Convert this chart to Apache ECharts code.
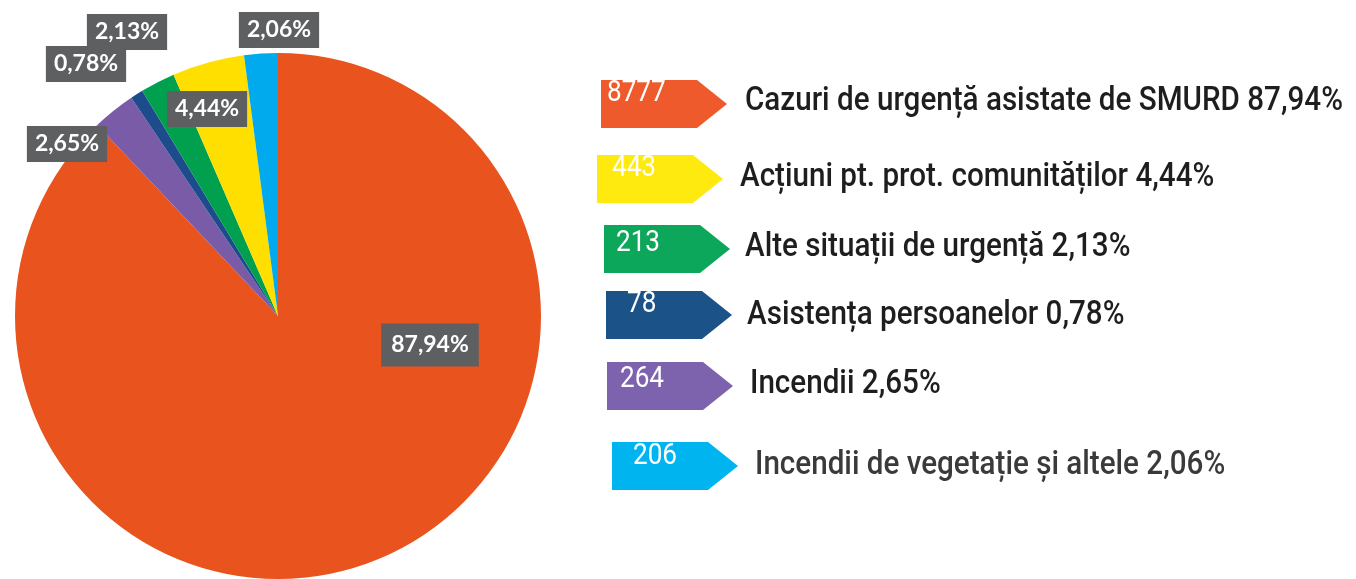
<!DOCTYPE html>
<html><head><meta charset="utf-8">
<script src="https://cdn.jsdelivr.net/npm/echarts@6/dist/echarts.min.js"></script>
<style>html,body{margin:0;padding:0;background:#fff}#c{width:1356px;height:579px}</style>
</head><body><div id="c"></div>
<script>
// ---- DATA (legend order) ----
const categories = [
  'Cazuri de urgență asistate de SMURD',
  'Acțiuni pt. prot. comunităților',
  'Alte situații de urgență',
  'Asistența persoanelor',
  'Incendii',
  'Incendii de vegetație și altele'
];
const counts = [8777, 443, 213, 78, 264, 206];
const percentLabels = ['87,94%', '4,44%', '2,13%', '0,78%', '2,65%', '2,06%'];
// slice order clockwise from 12 o'clock (indices into categories)
const pieOrder = [0, 4, 3, 2, 1, 5];

// ---- STYLE / LAYOUT ----
const sliceColors = ['#E8531E', '#FFDF00', '#00A04F', '#1D4C8C', '#7A5BA7', '#00AAEC'];
const arrowColors = ['#EE5A2B', '#FFEA10', '#0DA75B', '#1B5388', '#7D63AD', '#00B4F0'];
const labelPos = [[430, 345], [207, 109], [127, 32], [86, 64], [67, 144], [279, 30]];
const arrowLeft = [601, 597, 604, 606, 607, 612];
const arrowTop = [80, 155, 225, 291, 362, 442];
const numPos = [[607, 93], [612, 168], [616, 243], [627, 304], [620, 379], [633, 456]];
const textPos = [[745, 101], [740, 177], [745, 247], [747, 315], [750, 384], [755, 465]];
const textColors = ['#1e1e1e', '#1e1e1e', '#1e1e1e', '#1e1e1e', '#1e1e1e', '#3a3a3a'];
const LEG_FONT = '500 34px Roboto, "DejaVu Sans", sans-serif';
const NUM_FONT = '30px Roboto, "DejaVu Sans", sans-serif';
const LINE1_WIDTH = 598; // rendered width of first legend line in the reference

// horizontal condensing factor, so the text matches the narrow original face
const ctx = document.createElement('canvas').getContext('2d');
ctx.font = LEG_FONT;
const scaleX = LINE1_WIDTH / ctx.measureText(categories[0] + ' ' + percentLabels[0]).width;

const chart = echarts.init(document.getElementById('c'), null, {renderer: 'canvas'});

const pieData = pieOrder.map(ci => ({
  name: categories[ci],
  value: counts[ci],
  itemStyle: {color: sliceColors[ci]},
  label: ci === 0 ? {padding: [10, 10, 10, 10]} : {}
}));

const graphics = [];
categories.forEach((cat, i) => {
  const x = arrowLeft[i], y = arrowTop[i];
  graphics.push({
    type: 'polygon',
    shape: {points: [[x, y], [x + 96, y], [x + 126, y + 24], [x + 96, y + 48], [x, y + 48]]},
    style: {fill: arrowColors[i]}
  });
  graphics.push({
    type: 'text',
    x: numPos[i][0], y: numPos[i][1], scaleX: scaleX,
    style: {text: String(counts[i]), fill: '#fff', font: NUM_FONT, textVerticalAlign: 'middle', textAlign: 'left'}
  });
  graphics.push({
    type: 'text',
    x: textPos[i][0], y: textPos[i][1], scaleX: scaleX,
    style: {text: cat + ' ' + percentLabels[i], fill: textColors[i], font: LEG_FONT, textVerticalAlign: 'middle', textAlign: 'left'}
  });
});

chart.setOption({
  backgroundColor: '#ffffff',
  animation: false,
  series: [{
    type: 'pie',
    center: [278, 316],
    radius: 263,
    startAngle: 90,
    clockwise: true,
    silent: true,
    data: pieData,
    label: {
      show: true,
      position: 'inside',
      formatter: p => percentLabels[pieOrder[p.dataIndex]],
      color: '#fff',
      fontFamily: 'Lato',
      fontWeight: 'bold',
      fontSize: 23,
      backgroundColor: '#5e5f61',
      padding: [7, 8, 6, 8]
    },
    labelLine: {show: false},
    labelLayout: function (params) {
      const p = labelPos[pieOrder[params.dataIndex]];
      return {x: p[0], y: p[1], align: 'center', verticalAlign: 'middle'};
    },
    emphasis: {disabled: true}
  }],
  graphic: graphics
});
</script></body></html>
